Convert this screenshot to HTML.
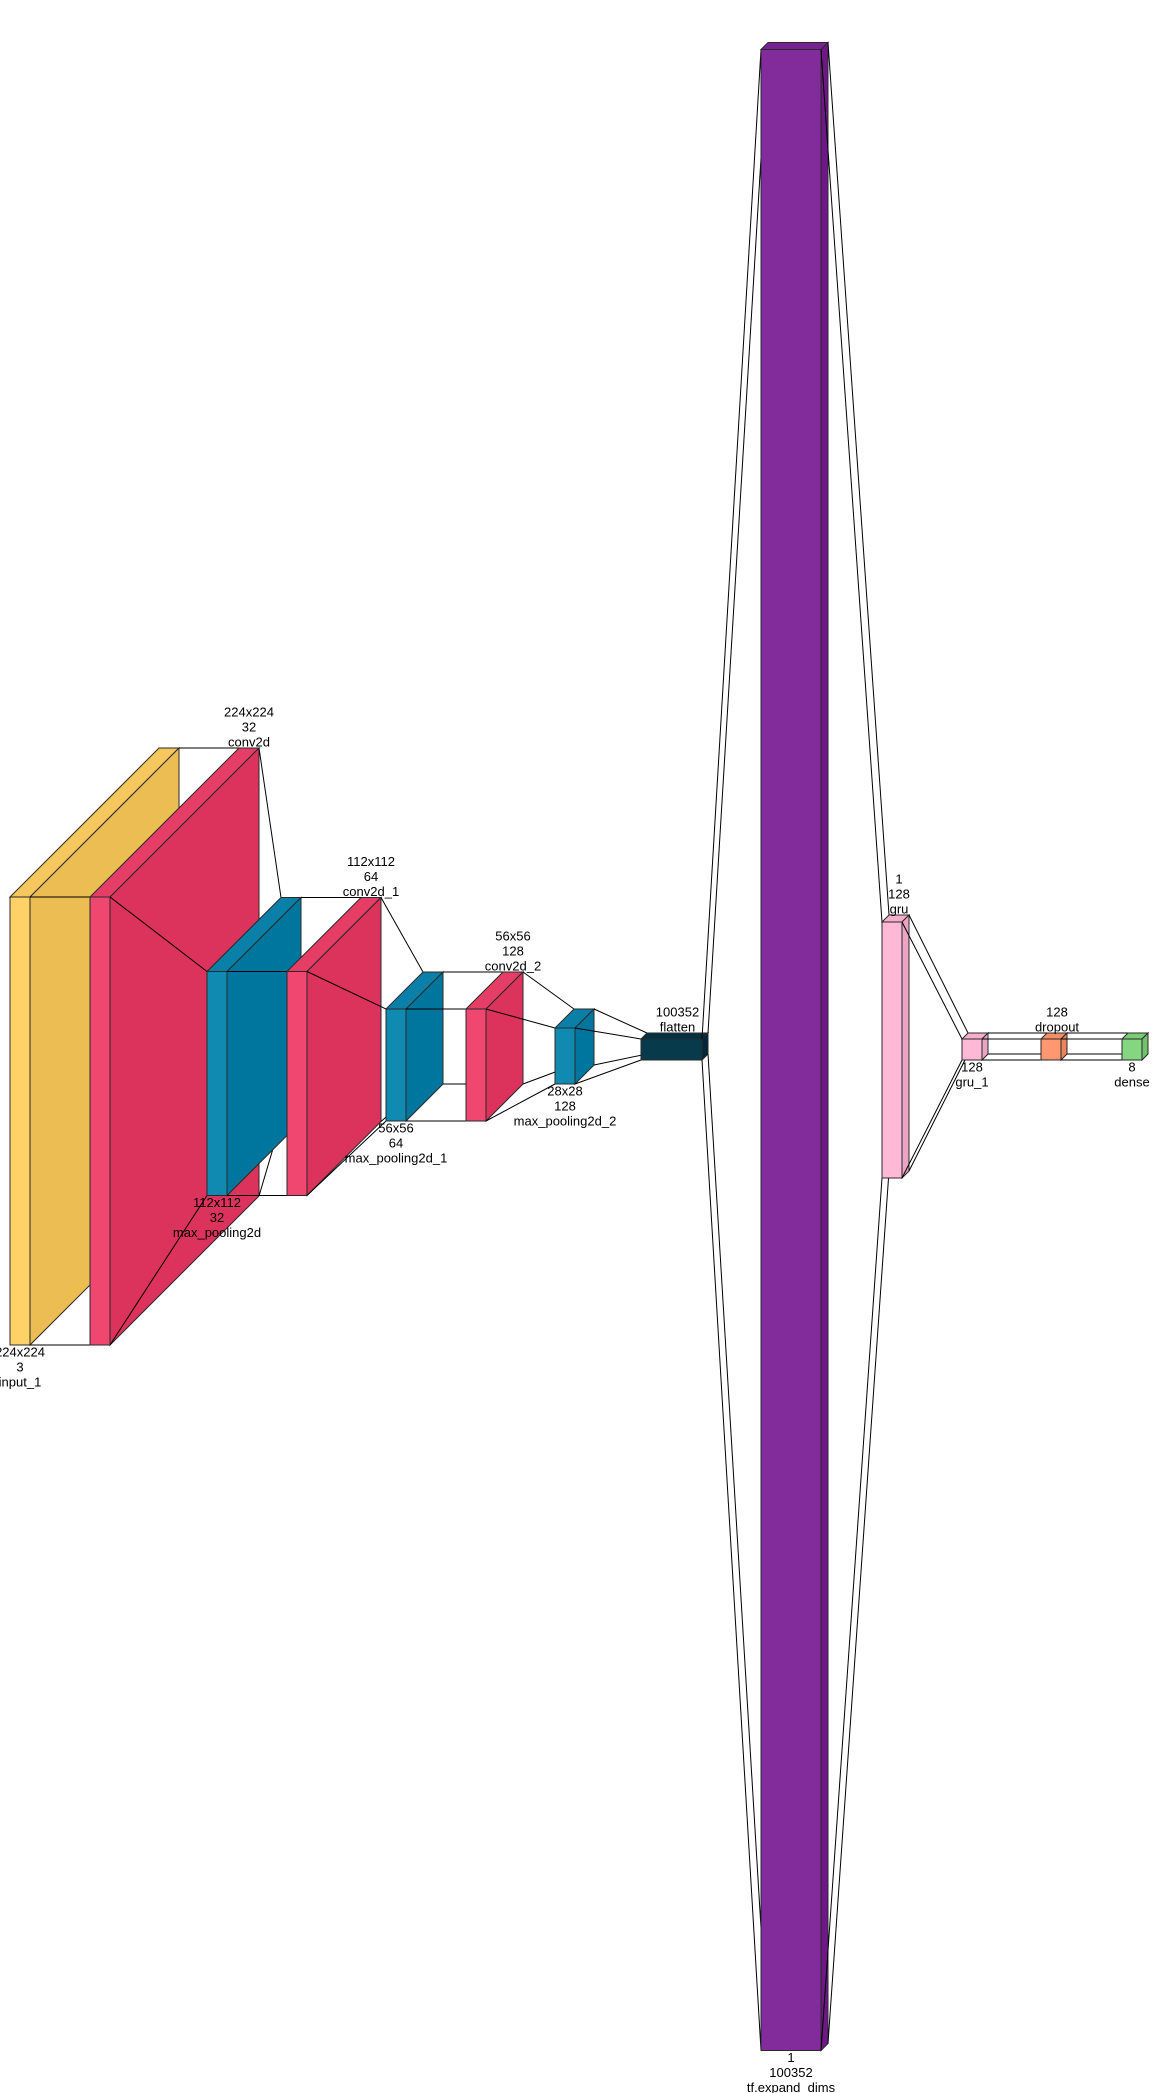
<!DOCTYPE html>
<html><head><meta charset="utf-8"><style>
html,body{margin:0;padding:0;background:#fff;}
svg{display:block;}
text{font-family:"Liberation Sans",Arial,sans-serif;font-size:13px;fill:#000;}
</style></head><body>
<svg id="chart" width="1159" height="2093" viewBox="0 0 1159 2093" xmlns="http://www.w3.org/2000/svg"></svg>
<script>
const layerNames = ["input_1","conv2d","max_pooling2d","conv2d_1","max_pooling2d_1","conv2d_2","max_pooling2d_2","flatten","tf.expand_dims","gru","gru_1","dropout","dense"];
const dimLabels = [["224x224","3"],["224x224","32"],["112x112","32"],["112x112","64"],["56x56","64"],["56x56","128"],["28x28","128"],["100352"],["1","100352"],["1","128"],["128"],["128"],["8"]];
const boxHeights = [448,448,224,224,112,112,56,21,2001,256,21,21,21];
const boxDepths = [149,149,74,74,37,37,19,6,7,7,6,6,6];
const boxWidths = [20,20,20,20,20,20,20,61,60,20,20,20,20];
const frontColors = ["#FFD166","#EF476F","#118AB2","#EF476F","#118AB2","#EF476F","#118AB2","#073B4C","#822C9C","#FFB8D5","#FFB8D5","#FF9770","#84D681"];
const sideColors = ["#EBBD52","#DB335B","#00769E","#DB335B","#00769E","#DB335B","#00769E","#002738","#6E1888","#EBA4C1","#EBA4C1","#EB835C","#70C26D"];
const topColors = ["#F5C75C","#E53D65","#0A80A8","#E53D65","#0A80A8","#E53D65","#0A80A8","#033142","#782292","#F5AECB","#F5AECB","#F58D66","#7ACC77"];
const xStart = [10,90,207,287,386,466,555,641,761,882,962,1041,1122];
const centerY = 1046.5;

const NS = "http://www.w3.org/2000/svg";
const svg = document.getElementById("chart");
function el(tag, attrs){const e=document.createElementNS(NS,tag);for(const k in attrs)e.setAttribute(k,attrs[k]);return e;}
function geom(i){
  const h=boxHeights[i], d=boxDepths[i], w=boxWidths[i], x=xStart[i];
  const yf = centerY - (h+d)/2 + d;
  return {x,w,h,d,yf};
}
function drawBox(i){
  const g=geom(i);
  const grp=el("g",{});
  
  
  const st="#2a2a2a";
  const front=el("rect",{x:g.x,y:g.yf,width:g.w,height:g.h,fill:frontColors[i],stroke:st,"stroke-width":1});
  const top=el("polygon",{points:`${g.x},${g.yf} ${g.x+g.d},${g.yf-g.d} ${g.x+g.w+g.d},${g.yf-g.d} ${g.x+g.w},${g.yf}`,fill:topColors[i],stroke:st,"stroke-width":1});
  const side=el("polygon",{points:`${g.x+g.w},${g.yf} ${g.x+g.w+g.d},${g.yf-g.d} ${g.x+g.w+g.d},${g.yf-g.d+g.h} ${g.x+g.w},${g.yf+g.h}`,fill:sideColors[i],stroke:st,"stroke-width":1});
  grp.appendChild(front);grp.appendChild(top);grp.appendChild(side);
  svg.appendChild(grp);
}
function drawConnector(a,b){
  const A=geom(a),B=geom(b);
  const segs=[
    [A.x+A.w,A.yf,B.x,B.yf],
    [A.x+A.w+A.d,A.yf-A.d,B.x+B.d,B.yf-B.d],
    [A.x+A.w,A.yf+A.h,B.x,B.yf+B.h],
    [A.x+A.w+A.d,A.yf-A.d+A.h,B.x+B.d,B.yf-B.d+B.h]
  ];
  const grp=el("g",{});
  
  
  segs.forEach(s=>grp.appendChild(el("line",{x1:s[0],y1:s[1],x2:s[2],y2:s[3],stroke:"#000","stroke-width":1})));
  svg.appendChild(grp);
}
function drawLabel(i){
  const g=geom(i);
  const lines=dimLabels[i].concat([layerNames[i]]);
  const grp=el("g",{});
  
  
  let cx, y0;
  if(i%2===0){ // below, centered on front face
    cx=g.x+g.w/2; y0=g.yf+g.h+7;
  } else { // above, centered on back face
    cx=g.x+g.d+g.w/2; y0=g.yf-g.d-6-15*(lines.length-1);
  }
  lines.forEach((t,k)=>{
    const tx=el("text",{x:cx,y:y0+15*k,"text-anchor":"middle","dominant-baseline":"central"});
    tx.textContent=t;grp.appendChild(tx);
  });
  svg.appendChild(grp);
}
for(let i=0;i<layerNames.length;i++){
  if(i>0) drawConnector(i-1,i);
  drawBox(i);
}
for(let i=0;i<layerNames.length;i++) drawLabel(i);
</script>
</body></html>
